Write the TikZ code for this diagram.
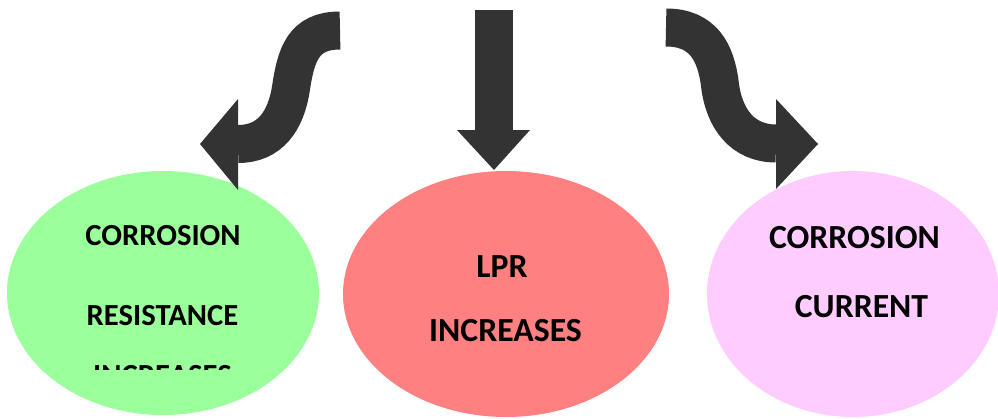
\documentclass[tikz,border=0pt]{standalone}
\usepackage{fontspec}
\setmainfont{Carlito}

\tikzset{every picture/.style={line width=0.75pt}}
\tikzset{band/.style={draw={rgb, 255:red, 51; green, 51; blue, 51 }, line width=28.5pt, line cap=butt},
	headfill/.style={fill={rgb, 255:red, 51; green, 51; blue, 51 }},
	bigtext/.style={inner sep=0pt, font=\bfseries\fontsize{25.3}{30}\selectfont},
	smalltext/.style={inner sep=0pt, font=\bfseries\fontsize{23}{28}\selectfont}}

\begin{document}
\begin{tikzpicture}[x=0.75pt,y=0.75pt,yscale=-1,xscale=1]
	\useasboundingbox (0,0) rectangle (998,418);

	%Shape: Ellipse [green]
	\fill [fill={rgb, 255:red, 155; green, 255; blue, 155 }] (163,293) ellipse (156 and 122);
	%Shape: Ellipse [red]
	\fill [fill={rgb, 255:red, 255; green, 128; blue, 128 }] (506,294) ellipse (163 and 123);
	%Shape: Ellipse [pink]
	\fill [fill={rgb, 255:red, 255; green, 204; blue, 255 }] (853,294) ellipse (146 and 123);

	%Curve Lines [left arrow]
	\coordinate (ltail) at (340,30.5);
	\coordinate (lbend) at (291,88);
	\coordinate (lbase) at (238,144);
	\coordinate (ltip) at (200,144);
	\draw [band] (ltail) .. controls (303,30.5) and (296,55) .. (lbend) .. controls (286,121) and (270,144) .. (lbase) ;
	\fill [headfill] (238,99) -- (ltip) -- (238,190) -- cycle ;

	%Straight Lines [down arrow]
	\coordinate (mtail) at (493.5,10);
	\coordinate (mbase) at (493.5,130);
	\coordinate (mtip) at (494,170);
	\draw [band] (mtail) -- (mbase) ;
	\fill [headfill] (457,130) -- (mtip) -- (530,130) -- cycle ;

	%Curve Lines [right arrow]
	\coordinate (rtail) at (666,27.5);
	\coordinate (rbend) at (720,85);
	\coordinate (rbase) at (776,143.5);
	\coordinate (rtip) at (818,144);
	\draw [band] (rtail) .. controls (703,27.5) and (716,52) .. (rbend) .. controls (724,118) and (742,143.5) .. (rbase) ;
	\fill [headfill] (776,99) -- (rtip) -- (776,189) -- cycle ;

	% Text Node
	\node [smalltext] (corr1) at (163,236) {CORROSION};
	% Text Node
	\node [smalltext] (resist) at (162.5,316) {RESISTANCE};
	% Text Node
	\begin{scope}
		\clip (0,0) rectangle (998,369.5);
		\node [smalltext] (incr1) at (162.5,376) {INCREASES};
	\end{scope}
	% Text Node
	\node [bigtext] (lpr) at (502,267) {LPR};
	% Text Node
	\node [bigtext] (incr2) at (505.5,331) {INCREASES};
	% Text Node
	\node [bigtext] (corr2) at (854.5,238) {CORROSION};
	% Text Node
	\node [bigtext] (curr) at (861.5,307) {CURRENT};

\end{tikzpicture}
\end{document}
